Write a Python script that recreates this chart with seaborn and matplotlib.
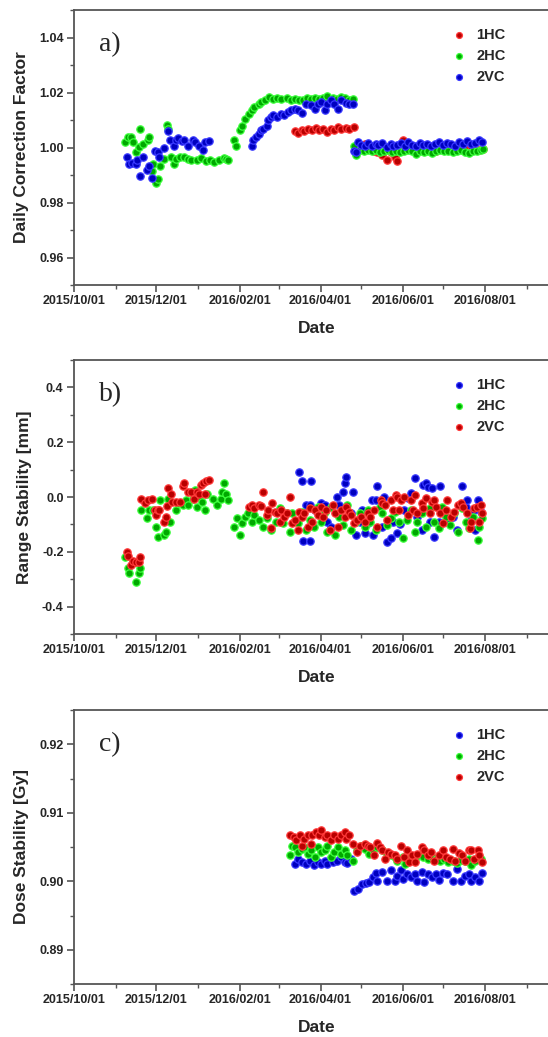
import pandas as pd
import numpy as np
import matplotlib
matplotlib.use("Agg")
import matplotlib.pyplot as plt
import matplotlib.dates as mdates
from matplotlib.ticker import MultipleLocator
import seaborn as sns

#%% DATA  (x = days since 2015/10/01)

START = pd.Timestamp("2015-10-01")

# ---- a) Daily Correction Factor ----
a_1hc_day = [164, 166, 169, 171, 174, 177, 180, 182, 185, 188, 191, 193, 196, 198, 202, 204, 208,
             216, 219, 223, 225, 229, 232, 235, 238, 240, 241, 244, 246,
             249, 252, 256, 259, 262, 266, 269, 272, 276, 279, 282, 286, 289, 292, 295, 298, 301, 304]
a_1hc_val = [1.0060, 1.0052, 1.0064, 1.0060, 1.0068, 1.0062, 1.0072, 1.0064, 1.0067, 1.0055, 1.0068,
             1.0062, 1.0074, 1.0069, 1.0072, 1.0067, 1.0074,
             1.0013, 1.0001, 0.9989, 0.9983, 0.9971, 0.9955, 0.9983, 0.9967, 0.9950, 0.9989, 1.0028, 1.0001,
             0.9994, 0.9998, 0.9990, 0.9996, 0.9992, 0.9999, 0.9988, 0.9995, 0.9991, 0.9997, 0.9993, 0.9999,
             0.9990, 0.9996, 1.0004, 0.9994, 0.9992, 0.9993]

a_2hc_day = [38, 40, 42, 44, 46, 48, 49, 51, 55, 56, 58, 59, 61, 62, 64, 67, 69, 70, 72, 74, 76, 79,
             82, 85, 87, 91, 94, 98, 101, 104, 108, 111, 113, 114,
             119, 120, 123, 125, 127, 130, 132, 134, 137, 139, 142, 145, 148, 151, 154, 158, 161, 164,
             167, 170, 173, 176, 179, 182, 185, 188, 192, 195, 198, 201, 204, 207,
             208, 209, 212, 215, 218, 221, 224, 227, 230, 233, 236, 239, 242, 245, 248, 251, 254, 257,
             260, 263, 266, 269, 272, 275, 278, 281, 284, 287, 290, 293, 296, 299, 302, 304]
a_2hc_val = [1.0019, 1.0038, 1.0038, 1.0019, 0.9985, 1.0001, 1.0066, 1.0011, 1.0026, 1.0038, 0.9916,
             0.9940, 0.9870, 0.9886, 0.9934, 0.9959, 1.0083, 1.0068, 0.9967, 0.9940, 0.9959, 0.9967,
             0.9965, 0.9960, 0.9955, 0.9955, 0.9962, 0.9950, 0.9955, 0.9946, 0.9955, 0.9962, 0.9960, 0.9955,
             1.0028, 1.0005, 1.0062, 1.0077, 1.0105, 1.0123, 1.0135, 1.0147, 1.0157, 1.0165, 1.0174,
             1.0184, 1.0178, 1.0181, 1.0176, 1.0181, 1.0174, 1.0178, 1.0171, 1.0174, 1.0179, 1.0176,
             1.0180, 1.0178, 1.0181, 1.0186, 1.0181, 1.0178, 1.0184, 1.0181, 1.0174, 1.0178,
             1.0004, 0.9974, 0.9990, 0.9988, 0.9992, 0.9986, 0.9990, 0.9984, 0.9988, 0.9991, 0.9985,
             0.9989, 0.9983, 0.9987, 0.9990, 0.9986, 0.9978, 0.9988, 0.9984, 0.9989, 0.9980, 0.9987,
             0.9991, 0.9986, 0.9989, 0.9984, 0.9988, 0.9990, 0.9985, 0.9979, 0.9988, 0.9986, 0.9990, 0.9996]

a_2vc_day = [39, 41, 43, 46, 47, 49, 51, 54, 56, 58, 60, 62, 63, 67, 70, 71, 74, 76, 77, 80, 82, 85,
             88, 90, 93, 96, 97, 100,
             132, 133, 135, 137, 139, 140, 143, 144, 146, 148, 151, 154, 156, 159, 161, 164, 166, 169,
             172, 176, 179, 181, 183, 186, 188, 191, 193, 196, 198, 202, 204, 207,
             208, 209, 211, 213, 216, 218, 221, 224, 226, 229, 232, 235, 237, 240, 243, 246, 248, 251,
             254, 257, 259, 262, 265, 268, 271, 274, 277, 280, 283, 286, 289, 292, 295, 298, 301, 303]
a_2vc_val = [0.9967, 0.9940, 0.9944, 0.9940, 0.9953, 0.9898, 0.9967, 0.9919, 0.9934, 0.9889, 0.9987,
             0.9983, 0.9965, 0.9998, 1.0060, 1.0026, 1.0007, 1.0028, 1.0035, 1.0023, 1.0026, 1.0004,
             1.0026, 1.0019, 1.0007, 0.9991, 1.0019, 1.0023,
             1.0005, 1.0028, 1.0038, 1.0050, 1.0062, 1.0068, 1.0078, 1.0101, 1.0111, 1.0117, 1.0111,
             1.0123, 1.0117, 1.0129, 1.0135, 1.0141, 1.0135, 1.0125, 1.0159, 1.0153, 1.0141, 1.0159,
             1.0165, 1.0137, 1.0159, 1.0171, 1.0157, 1.0141, 1.0174, 1.0162, 1.0159, 1.0157,
             0.9987, 0.9983, 1.0019, 1.0010, 1.0006, 1.0018, 1.0004, 1.0012, 1.0008, 1.0016, 1.0002,
             1.0011, 1.0005, 1.0009, 1.0015, 1.0007, 1.0021, 1.0010, 1.0004, 1.0017, 1.0008, 1.0012,
             1.0006, 1.0014, 1.0020, 1.0009, 1.0016, 1.0011, 1.0007, 1.0019, 1.0013, 1.0022, 1.0012,
             1.0018, 1.0026, 1.0020]

# ---- b) Range Stability [mm] ----
b_1hc_day = [167, 169, 170, 172, 175, 176, 175, 179, 183, 186, 188, 191, 195, 197, 200, 201, 202,
             206, 207, 209, 212, 214, 216, 218, 221, 222, 224, 225, 229, 230, 232, 235, 237, 240, 242,
             245, 248, 250, 253, 255, 258, 259, 261, 263, 264, 266, 267, 271, 272, 275, 278, 281, 284,
             288, 291, 292, 295, 297, 298, 300, 302]
b_1hc_val = [0.090, 0.060, -0.160, -0.029, -0.029, 0.060, -0.160, -0.047, -0.021, -0.029, -0.090,
             -0.108, 0.001, -0.029, 0.019, 0.050, 0.072, -0.060, 0.019, -0.139, -0.090, -0.047, -0.133,
             -0.096, -0.011, -0.139, -0.011, 0.040, -0.108, 0.001, -0.163, -0.151, -0.090, -0.133,
             -0.098, -0.047, -0.005, 0.013, 0.068, -0.072, -0.120, 0.044, 0.050, 0.038, -0.090, 0.032,
             -0.145, -0.090, 0.040, -0.060, -0.090, -0.072, -0.120, 0.040, -0.035, -0.011, -0.084,
             -0.047, -0.120, -0.011, -0.053]

b_2hc_day = [38, 40, 41, 44, 46, 48, 49, 50, 54, 56, 59, 61, 62, 64, 67, 68, 70, 71, 76, 77, 81, 83,
             85, 88, 90, 91, 93, 95, 97, 99, 103, 106, 109, 110, 111, 113, 114,
             119, 121, 123, 125, 127, 129, 132, 134, 137, 140, 143, 146, 150, 153, 155, 158, 160, 162,
             166, 169, 172, 175, 178, 181, 183, 186, 188, 191, 194, 197, 200, 203, 206, 209, 212, 216,
             218, 220, 224, 227, 229, 232, 235, 238, 241, 244, 247, 250, 253, 255, 258, 261, 264, 267,
             271, 273, 276, 279, 282, 285, 288, 291, 293, 296, 300, 301, 303]
b_2hc_val = [-0.218, -0.260, -0.278, -0.240, -0.309, -0.278, -0.260, -0.047, -0.078, -0.047, -0.047,
             -0.108, -0.147, -0.011, -0.139, -0.126, -0.009, -0.090, -0.047, -0.023, -0.029, -0.011,
             -0.029, -0.009, 0.026, -0.035, 0.001, -0.017, -0.047, 0.011, -0.009, -0.029, -0.009, 0.019,
             0.052, 0.011, -0.011,
             -0.108, -0.078, -0.139, -0.096, -0.072, -0.060, -0.090, -0.066, -0.084, -0.108, -0.078,
             -0.120, -0.090, -0.041, -0.096, -0.060, -0.126, -0.060, -0.096, -0.053, -0.120, -0.084,
             -0.108, -0.035, -0.090, -0.053, -0.126, -0.035, -0.139, -0.072, -0.102, -0.029, -0.120,
             -0.090, -0.060, -0.108, -0.047, -0.090, -0.120, -0.035, -0.060, -0.102, -0.078, -0.053,
             -0.090, -0.151, -0.084, -0.047, -0.126, -0.090, -0.060, -0.108, -0.041, -0.090, -0.114,
             -0.035, -0.072, -0.102, -0.060, -0.126, -0.041, -0.090, -0.114, -0.072, -0.157, -0.108, -0.078]

b_2vc_day = [39, 40, 42, 44, 46, 48, 49, 50, 53, 55, 58, 60, 61, 62, 63, 67, 68, 69, 70, 72, 73, 76,
             79, 81, 82, 85, 87, 89, 91, 93, 94, 96, 97, 98, 100,
             130, 132, 134, 137, 139, 140, 143, 144, 146, 147, 149, 151, 153, 154, 156, 158, 160, 162,
             164, 166, 167, 169, 171, 174, 175, 177, 179, 181, 183, 185, 187, 190, 192, 194, 196, 198,
             201, 202, 204, 206, 208, 210, 213, 216, 218, 220, 223, 225, 228, 229, 231, 232, 235, 237,
             239, 240, 241, 243, 245, 248, 250, 252, 253, 255, 258, 259, 261, 264, 266, 267, 269, 272,
             274, 276, 277, 280, 282, 285, 287, 289, 292, 294, 295, 297, 299, 301, 302, 303]
b_2vc_val = [-0.199, -0.215, -0.248, -0.232, -0.236, -0.236, -0.218, -0.009, -0.021, -0.011, -0.009,
             -0.047, -0.066, -0.047, -0.047, -0.090, -0.072, -0.033, 0.032, 0.011, -0.017, -0.017,
             -0.017, 0.040, 0.052, 0.019, 0.019, -0.009, 0.019, 0.011, 0.044, 0.052, 0.011, 0.060, 0.062,
             -0.035, -0.029, -0.041, -0.029, -0.033, 0.019, -0.066, -0.047, -0.114, -0.021, -0.053,
             -0.060, -0.090, -0.047, -0.072, -0.060, 0.001, -0.096, -0.084, -0.120, -0.053, -0.072,
             -0.060, -0.108, -0.041, -0.090, -0.047, -0.066, -0.035, -0.072, -0.047, -0.120, -0.029,
             -0.060, -0.108, -0.047, -0.072, -0.035, -0.053, -0.066, -0.096, -0.084, -0.072, -0.090,
             -0.060, -0.072, -0.047, -0.108, -0.011, -0.023, -0.029, -0.084, -0.011, -0.047, 0.007,
             0.001, -0.047, -0.011, 0.001, -0.066, -0.011, -0.047, 0.007, -0.060, -0.023, -0.041,
             -0.005, -0.060, -0.017, -0.011, -0.035, -0.060, -0.096, -0.047, -0.011, -0.072, -0.053,
             -0.029, -0.023, -0.035, -0.060, -0.114, -0.090, -0.041, -0.035, -0.090, -0.029, -0.060]

# ---- c) Dose Stability [Gy] ----
c_1hc_day = [164, 166, 169, 172, 175, 178, 181, 183, 186, 188, 192, 195, 198, 201, 203, 206,
             208, 211, 214, 217, 219, 222, 224, 225, 229, 232, 235, 238, 240, 243, 244, 247, 250, 253,
             255, 258, 260, 263, 266, 269, 271, 274, 277, 281, 284, 287, 290, 293, 295, 298, 301, 303]
c_1hc_val = [0.9025, 0.9033, 0.9028, 0.9025, 0.9030, 0.9024, 0.9028, 0.9025, 0.9030, 0.9025, 0.9028,
             0.9030, 0.9035, 0.9028, 0.9026, 0.9033,
             0.8986, 0.8989, 0.8996, 0.8997, 0.8999, 0.9006, 0.9012, 0.9001, 0.9013, 0.9001, 0.9017,
             0.9000, 0.9008, 0.9016, 0.9003, 0.9011, 0.9006, 0.9011, 0.9001, 0.9013, 0.8999, 0.9011,
             0.9006, 0.9011, 0.9002, 0.9012, 0.9010, 0.9000, 0.9018, 0.9001, 0.9008, 0.9011, 0.9001,
             0.9006, 0.9001, 0.9012]

c_2hc_day = [160, 162, 164, 166, 169, 171, 174, 176, 179, 181, 183, 186, 188, 191, 193, 196, 198, 201,
             203, 207, 210, 213, 216, 219, 222, 225, 229, 232, 235, 238, 240, 244, 246, 250, 253, 256,
             259, 263, 266, 269, 272, 275, 278, 281, 284, 287, 290, 293, 295, 298, 302]
c_2hc_val = [0.9038, 0.9051, 0.9050, 0.9042, 0.9047, 0.9050, 0.9040, 0.9046, 0.9035, 0.9050, 0.9042,
             0.9045, 0.9051, 0.9035, 0.9042, 0.9050, 0.9040, 0.9046, 0.9038, 0.9030, 0.9045, 0.9052,
             0.9047, 0.9040, 0.9045, 0.9050, 0.9045, 0.9040, 0.9038, 0.9035, 0.9030, 0.9035, 0.9025,
             0.9035, 0.9033, 0.9038, 0.9035, 0.9033, 0.9035, 0.9033, 0.9030, 0.9033, 0.9028, 0.9030,
             0.9026, 0.9031, 0.9029, 0.9033, 0.9023, 0.9030, 0.9033]

c_2vc_day = [160, 163, 165, 168, 169, 171, 174, 176, 177, 180, 182, 183, 186, 188, 191, 193, 196, 198,
             201, 202, 204, 207, 210, 212, 216, 218, 220, 223, 225, 227, 229, 231, 233, 235, 238, 240,
             243, 245, 247, 249, 251, 253, 255, 258, 260, 263, 265, 267, 271, 274, 276, 279, 281, 283,
             286, 288, 290, 293, 295, 297, 300, 301, 303]
c_2vc_val = [0.9067, 0.9064, 0.9060, 0.9067, 0.9052, 0.9062, 0.9067, 0.9055, 0.9067, 0.9072, 0.9068,
             0.9075, 0.9064, 0.9067, 0.9060, 0.9067, 0.9062, 0.9067, 0.9072, 0.9062, 0.9067, 0.9055,
             0.9042, 0.9052, 0.9055, 0.9052, 0.9050, 0.9038, 0.9056, 0.9050, 0.9045, 0.9033, 0.9042,
             0.9040, 0.9038, 0.9033, 0.9052, 0.9035, 0.9045, 0.9028, 0.9038, 0.9028, 0.9040, 0.9050,
             0.9045, 0.9038, 0.9042, 0.9030, 0.9038, 0.9046, 0.9035, 0.9033, 0.9047, 0.9030, 0.9041,
             0.9038, 0.9030, 0.9046, 0.9045, 0.9033, 0.9045, 0.9038, 0.9028]

RED = ("#b80000", "#ff3a3a")
GREEN = ("#00a800", "#3cff3c")
BLUE = ("#0000c0", "#3a3aff")

#%% STYLE
sns.set_style("ticks")
plt.rcParams["font.family"] = ["Liberation Sans", "DejaVu Sans"]
plt.rcParams["font.weight"] = "bold"

fig = plt.figure(figsize=(5.48, 10.37), dpi=100)

W, H = 548, 1037
panels = [
    # top_px, bottom_px, ylim, major, minor, label, letter, series
    (10, 285, (0.95, 1.05), 0.02, 0.01, "Daily Correction Factor", "a)",
     [("1HC", a_1hc_day, a_1hc_val, RED), ("2HC", a_2hc_day, a_2hc_val, GREEN),
      ("2VC", a_2vc_day, a_2vc_val, BLUE)], "%.2f"),
    (360, 634, (-0.5, 0.5), 0.2, 0.1, "Range Stability [mm]", "b)",
     [("1HC", b_1hc_day, b_1hc_val, BLUE), ("2HC", b_2hc_day, b_2hc_val, GREEN),
      ("2VC", b_2vc_day, b_2vc_val, RED)], "%.1f"),
    (710, 984, (0.885, 0.925), 0.01, 0.005, "Dose Stability [Gy]", "c)",
     [("1HC", c_1hc_day, c_1hc_val, BLUE), ("2HC", c_2hc_day, c_2hc_val, GREEN),
      ("2VC", c_2vc_day, c_2vc_val, RED)], "%.2f"),
]

# axis runs past the right edge of the picture (cropped like the original)
x_end = pd.Timestamp("2016-09-25")
ax_w = (x_end - START).days * 1.347 / W

for top, bot, ylim, maj, mnr, ylab, letter, series, fmt in panels:
    ax = fig.add_axes([74 / W, 1 - bot / H, ax_w, (bot - top) / H])

    for name, day, val, (fc, ec) in series:
        df = pd.DataFrame({"Date": START + pd.to_timedelta(day, unit="D"), "v": val})
        sns.scatterplot(data=df, x="Date", y="v", ax=ax, color=fc, edgecolor=ec,
                        linewidth=0.9, s=28, label=name, zorder=3)

    ax.set_xlim(START, x_end)
    ax.set_ylim(*ylim)
    ax.xaxis.set_major_locator(mdates.MonthLocator(bymonth=[2, 4, 6, 8, 10, 12]))
    ax.xaxis.set_minor_locator(mdates.MonthLocator(bymonth=[1, 3, 5, 7, 9, 11]))
    ax.xaxis.set_major_formatter(mdates.DateFormatter("%Y/%m/%d"))
    ax.yaxis.set_major_locator(MultipleLocator(maj))
    ax.yaxis.set_minor_locator(MultipleLocator(mnr))
    ax.yaxis.set_major_formatter(matplotlib.ticker.FormatStrFormatter(fmt))

    for sp in ["left", "bottom", "top"]:
        ax.spines[sp].set_color("#555555")
        ax.spines[sp].set_linewidth(1.3)
    ax.spines["right"].set_visible(False)
    ax.tick_params(which="major", direction="out", length=5, width=1.2, color="#555555",
                   labelsize=9, pad=2.5)
    ax.tick_params(which="minor", direction="out", length=3, width=1.0, color="#555555")
    for t in ax.get_xticklabels() + ax.get_yticklabels():
        t.set_fontweight("bold")

    ax.set_xlabel("Date", fontsize=12.5, fontweight="bold", labelpad=10)
    ax.set_ylabel(ylab, fontsize=12.5, fontweight="bold", labelpad=7)

    ax.text(25 / 493, 0.875, letter, transform=ax.transAxes, fontsize=20,
            family=["Liberation Serif"], fontweight="normal", ha="left", va="center")

    leg = ax.legend(loc="upper left", bbox_to_anchor=(0.779, 0.936), frameon=False,
                    fontsize=10.5, handlelength=1.0, handletextpad=0.7, labelspacing=0.5,
                    borderpad=0, borderaxespad=0, markerscale=0.8)
    for t in leg.get_texts():
        t.set_fontweight("bold")

fig.savefig("out.png", dpi=100)
